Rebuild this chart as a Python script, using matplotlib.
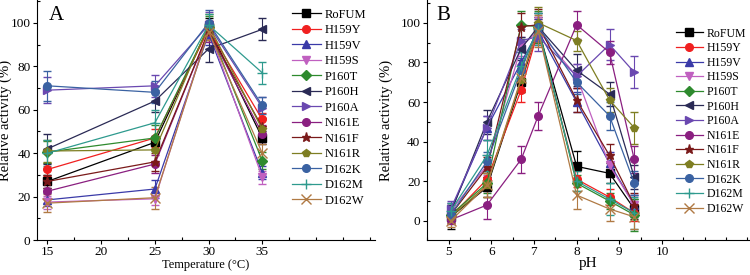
import matplotlib
matplotlib.use('Agg')
import matplotlib.pyplot as plt
from matplotlib.ticker import MultipleLocator

plt.rcParams['font.family'] = ['Liberation Serif', 'DejaVu Serif']

names = ['RoFUM', 'H159Y', 'H159V', 'H159S', 'P160T', 'P160H', 'P160A',
         'N161E', 'N161F', 'N161R', 'D162K', 'D162M', 'D162W']
colors = ['#000000', '#f02020', '#3a3aa8', '#c060c0', '#2e8a2e', '#2a2a55',
          '#6a48b0', '#8a1f80', '#7a1a1a', '#7e7e22', '#3a62a2', '#2e9a8e', '#b07a44']
markers = ['s', 'o', '^', 'v', 'D', '<', '>', 'o', '*', 'p', 'o', '+', 'x']

# panel A: temperature
temp = [15, 25, 30, 35]
act_t = [
    [27, 45, 98, 47],
    [32.5, 47, 97, 55.5],
    [18.5, 23.5, 95, 31],
    [17.5, 19, 97, 29],
    [40.5, 47, 98, 36.5],
    [42, 64, 88, 97],
    [69, 71, 99, 61],
    [22.5, 35, 96, 49],
    [27, 36, 96, 52],
    [41, 41.5, 99, 51],
    [71, 68, 100, 62],
    [40, 54, 99, 77],
    [17, 19.5, 96, 40],
]
err_t = [
    [3, 3, 4, 3],
    [3, 4, 4, 3],
    [3, 4, 5, 3],
    [3, 3, 4, 3],
    [5, 6, 5, 4],
    [7, 5, 6, 5],
    [6, 5, 6, 5],
    [3, 4, 5, 4],
    [3, 4, 4, 4],
    [5, 6, 5, 5],
    [7, 5, 6, 4],
    [6, 6, 5, 5],
    [4, 5, 4, 4],
]

# panel B: pH
ph = [5.05, 5.9, 6.7, 7.1, 8.0, 8.77, 9.35]
act_p = [
    [2, 17, 70, 97, 27.5, 24, 6],
    [2, 21, 66, 96, 21, 12, 4],
    [5, 47, 80, 96, 60, 29, 8],
    [5, 28, 88, 96, 73, 28, 8],
    [3, 19, 99, 98, 19, 10, 3],
    [4, 50, 87, 98, 76, 64, 22],
    [6, 47, 91, 93, 73, 89, 75],
    [0.5, 8, 31, 53, 99, 85, 31],
    [3, 27, 98, 99, 61, 33, 8],
    [2, 18, 71, 100, 91, 61, 47],
    [3, 30, 76, 98, 70, 53, 19],
    [5, 33, 78, 97, 20, 11, 4],
    [0, 18, 72, 96, 13, 6, 2],
]
err_p = [
    [6, 5, 5, 6, 8, 5, 5],
    [3, 5, 6, 6, 4, 4, 4],
    [4, 6, 5, 6, 5, 6, 5],
    [4, 5, 5, 7, 6, 6, 5],
    [3, 5, 7, 8, 4, 4, 8],
    [4, 6, 6, 7, 8, 6, 6],
    [4, 6, 6, 7, 6, 8, 8],
    [2, 7, 7, 7, 7, 6, 7],
    [3, 5, 7, 8, 6, 6, 6],
    [3, 6, 6, 8, 5, 6, 8],
    [3, 5, 6, 7, 6, 7, 6],
    [4, 8, 7, 8, 5, 8, 8],
    [3, 6, 7, 8, 7, 6, 6],
]

fig = plt.figure(figsize=(7.5, 2.75), dpi=100)
axA = fig.add_axes([0.049, 0.127, 0.451, 0.873])
axB = fig.add_axes([0.569, 0.127, 0.431, 0.873])


def style(ax):
    ax.spines['top'].set_visible(False)
    ax.spines['right'].set_visible(False)
    ax.tick_params(which='major', direction='out', length=3, width=0.8,
                   labelsize=9.5, pad=1.5)
    ax.tick_params(which='minor', direction='in', length=2.5, width=0.8)
    ax.yaxis.set_major_locator(MultipleLocator(20))
    ax.yaxis.set_minor_locator(MultipleLocator(10))


hA, hB = [], []
for i in range(len(names)):
    ms = 6.5 if markers[i] in ('+', 'x', '*') else 5.5
    c = axA.errorbar(temp, act_t[i], yerr=err_t[i], color=colors[i], marker=markers[i],
                     ms=ms, lw=0.9, elinewidth=0.8, capsize=3, label=names[i])
    hA.append(c[0])
    c = axB.errorbar(ph, act_p[i], yerr=err_p[i], color=colors[i], marker=markers[i],
                     ms=ms, lw=0.9, elinewidth=0.8, capsize=3, label=names[i])
    hB.append(c[0])

style(axA)
axA.set_xlim(14, 45.5)
axA.set_ylim(0, 110.5)
axA.set_xticks([15, 20, 25, 30, 35])
axA.xaxis.set_minor_locator(MultipleLocator(2.5))
axA.set_xlabel('Temperature (°C)', fontsize=9)
axA.xaxis.set_label_coords(0.5, -0.078)
axA.set_ylabel('Relative activity (%)', fontsize=10.5)
axA.yaxis.set_label_coords(-0.072, 0.5)
axA.text(0.035, 0.975, 'A', transform=axA.transAxes, fontsize=15, va='top')
axA.legend(hA, names, loc='upper left', bbox_to_anchor=(0.74, 0.985), frameon=False,
           fontsize=9, handlelength=2.3, handletextpad=0.3, labelspacing=0.28,
           borderaxespad=0)

style(axB)
axB.set_xlim(4.49, 12.06)
axB.set_ylim(-9.7, 111.5)
axB.set_xticks([5, 6, 7, 8, 9, 10])
axB.xaxis.set_minor_locator(MultipleLocator(0.5))
axB.set_xlabel('pH', fontsize=11)
axB.xaxis.set_label_coords(0.5, -0.07)
axB.set_ylabel('Relative activity (%)', fontsize=10.5)
axB.yaxis.set_label_coords(-0.105, 0.5)
axB.text(0.03, 0.975, 'B', transform=axB.transAxes, fontsize=15, va='top')
axB.legend(hB, names, loc='upper left', bbox_to_anchor=(0.755, 0.905), frameon=False,
           fontsize=8.5, handlelength=2.3, handletextpad=0.3, labelspacing=0.22,
           borderaxespad=0)

fig.savefig('out.png', dpi=100)
